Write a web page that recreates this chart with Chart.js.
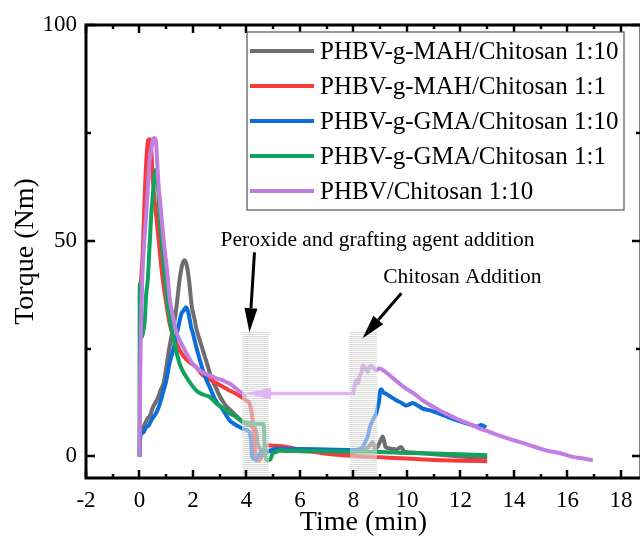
<!DOCTYPE html>
<html>
<head>
<meta charset="utf-8">
<script src="https://cdn.jsdelivr.net/npm/chart.js@4/dist/chart.umd.min.js"></script>
<style>
  html, body { margin: 0; padding: 0; background: #fff; overflow: hidden; }
  #wrap { width: 640px; height: 548px; overflow: hidden; }
</style>
</head>
<body>
<div id="wrap"><canvas id="myChart" width="660" height="548"></canvas></div>
<script>
// series data (time in min, torque in Nm)
const mahTen_t = [0, 0.04, 0.1, 0.2, 0.3, 0.4, 0.5, 0.6, 0.7, 0.8, 0.9, 1.0, 1.1, 1.2, 1.3, 1.4, 1.5, 1.6, 1.68, 1.76, 1.85, 1.95, 2.05, 2.15, 2.25, 2.4, 2.55, 2.7, 2.85, 3.0, 3.2, 3.4, 3.6, 3.8, 4.0, 4.2, 4.35, 4.42, 4.5, 4.6, 4.8, 5.2, 6, 7, 8, 8.3, 8.5, 8.6, 8.72, 8.8, 8.9, 9.0, 9.1, 9.2, 9.4, 9.6, 9.78, 9.9, 10.2, 11, 12, 13];
const mahTen_q = [0, 6, 6.5, 7.5, 8.8, 9.5, 11.4, 12.5, 13.8, 15.5, 17, 20.5, 24.6, 28, 31, 35.5, 41, 44.5, 45.5, 44.5, 41, 35, 32, 29, 27, 24, 21, 18, 16, 14, 12, 10.7, 9.5, 8.4, 7.4, 7, 6, 3, 1.8, 1.5, 1.2, 1.4, 1.2, 1.1, 1.0, 1.4, 1.8, 2.5, 3.3, 1.8, 2.2, 3.5, 4.6, 2.2, 1.8, 1.6, 2.2, 1.1, 0.9, 0.5, 0.0, -0.3];

const mahOne_t = [0, 0.05, 0.12, 0.18, 0.25, 0.32, 0.4, 0.45, 0.5, 0.62, 0.75, 0.87, 1.0, 1.12, 1.25, 1.4, 1.5, 1.75, 2.12, 2.37, 2.6, 2.87, 3.1, 3.36, 3.6, 3.8, 3.99, 4.11, 4.2, 4.26, 4.31, 4.36, 4.45, 4.55, 4.65, 4.73, 4.98, 5.5, 6, 7, 8, 9, 10, 11, 12, 13];
const mahOne_q = [36, 40, 47, 58, 68, 73.3, 73.5, 70, 64, 56, 48, 41, 35.5, 31, 28, 26, 24.6, 22.5, 20.7, 18.8, 18, 17, 16.2, 15.3, 14.6, 13.8, 13, 12.3, 10, 6, 2, -0.8, -0.9, -0.3, 1.5, 2.6, 2.5, 2.2, 1.6, 0.6, 0.1, -0.2, -0.5, -0.8, -1.0, -1.1];

const gmaTen_t = [0, 0.03, 0.06, 0.15, 0.25, 0.35, 0.45, 0.55, 0.62, 0.75, 0.87, 1.0, 1.12, 1.25, 1.37, 1.47, 1.56, 1.65, 1.74, 1.82, 1.93, 2.02, 2.12, 2.25, 2.37, 2.5, 2.68, 2.8, 2.92, 3.1, 3.36, 3.55, 3.74, 3.9, 4.04, 4.11, 4.17, 4.21, 4.28, 4.36, 4.45, 4.55, 4.73, 4.9, 5.1, 6, 7, 8, 8.2, 8.35, 8.45, 8.53, 8.6, 8.66, 8.78, 8.85, 8.91, 8.96, 9.0, 9.04, 9.12, 9.22, 9.4, 9.6, 9.8, 9.97, 10.1, 10.21, 10.4, 10.59, 10.9, 11.21, 11.5, 11.84, 12.15, 12.46, 12.65, 12.77, 12.96];
const gmaTen_q = [0, 4.5, 5.2, 5.6, 6.8, 7.2, 8.5, 9.4, 10, 12, 14.6, 17.5, 21.5, 24.5, 27.7, 30.5, 33, 33.8, 34.6, 33.5, 30, 28, 25.4, 22.5, 20, 17.8, 15.3, 13.5, 12.3, 11, 8.4, 7.5, 6.8, 6.3, 6, 5.5, 3.7, -0.1, -0.6, -0.8, 0.2, 1.0, 1.0, 1.4, 1.8, 1.7, 1.6, 1.5, 1.6, 2.2, 3.5, 4.5, 6.5, 7.6, 9.1, 10, 11.4, 12.8, 15.3, 15.6, 14.8, 14.5, 13.8, 13, 12.4, 11.8, 12.1, 12.4, 11.8, 11.1, 10.6, 9.9, 9.2, 8.4, 7.8, 7.2, 6.9, 7.3, 6.7];

const gmaOne_t = [0, 0.01, 0.08, 0.14, 0.19, 0.25, 0.31, 0.37, 0.44, 0.52, 0.6, 0.68, 0.75, 0.84, 0.93, 1.02, 1.12, 1.25, 1.37, 1.5, 1.62, 1.75, 1.9, 2.12, 2.35, 2.62, 2.87, 3.1, 3.36, 3.6, 3.8, 4.0, 4.2, 4.36, 4.5, 4.61, 4.66, 4.68, 4.72, 4.79, 4.9, 4.98, 5.1, 5.23, 5.5, 6, 7, 8, 9, 10, 11, 12, 13];
const gmaOne_q = [0, 40, 27.6, 29, 31, 37.5, 41, 48, 56, 62, 66.4, 64, 56, 49, 43, 37, 32.3, 28, 24.6, 21.5, 19.8, 18.4, 17, 15.3, 14.4, 13.8, 12.3, 11.3, 10, 9.2, 8.2, 7.8, 7.6, 7.6, 7.6, 7.6, 6, 2, -0.2, -0.9, -0.6, 0.7, 1.0, 1.4, 1.3, 1.3, 1.2, 1.1, 1.0, 0.8, 0.7, 0.5, 0.3];

const neat_t = [0, 0.03, 0.08, 0.12, 0.18, 0.25, 0.31, 0.37, 0.44, 0.5, 0.56, 0.62, 0.7, 0.8, 0.93, 1.05, 1.12, 1.25, 1.37, 1.5, 1.62, 1.75, 1.9, 2.05, 2.24, 2.45, 2.7, 2.93, 3.1, 3.25, 3.4, 3.6, 3.8, 3.99, 6, 7.97, 8.05, 8.1, 8.18, 8.22, 8.3, 8.35, 8.45, 8.53, 8.62, 8.72, 8.85, 8.97, 9.15, 9.35, 9.6, 9.97, 10.3, 10.59, 10.9, 11.21, 11.5, 11.84, 12.15, 12.46, 12.71, 13.08, 13.46, 13.96, 14.5, 15.2, 15.7, 16.2, 16.6, 16.95];
const neat_q = [0, 20, 36, 43.6, 50, 56, 62, 68, 71, 73.5, 73.8, 72.5, 64, 57, 48.5, 42, 37, 32.5, 29, 27, 25.5, 24, 22.3, 21, 20, 19.2, 18.6, 18, 17.7, 17.2, 16.8, 15.8, 14.8, 13.8, null, 14.2, 16.5, 17.6, 17, 18.4, 19.5, 21.1, 20.3, 19.6, 21, 20.7, 20, 20.4, 19.8, 18.8, 17.5, 15.7, 14.4, 13, 11.8, 10.7, 9.8, 8.8, 8, 7.2, 6.5, 5.7, 4.8, 3.8, 2.8, 1.4, 0.8, -0.1, -0.5, -0.9];

const seriesLabels = ['PHBV-g-MAH/Chitosan 1:10', 'PHBV-g-MAH/Chitosan 1:1', 'PHBV-g-GMA/Chitosan 1:10', 'PHBV-g-GMA/Chitosan 1:1', 'PHBV/Chitosan 1:10'];
const seriesColors = ['#6e6e6e', '#f53b3b', '#0d6ddb', '#0fa35e', '#c17de0'];
const xTickValues = [-2, 0, 2, 4, 6, 8, 10, 12, 14, 16, 18];
const yTickValues = [0, 50, 100];

// shaded addition windows and notes
const addWindows = [{ from: 3.83, to: 4.84, top: 28.8 }, { from: 7.87, to: 8.88, top: 28.8 }];
const notes = [
    { text: 'Peroxide and grafting agent addition', x: 8.9, y: 50.1 },
    { text: 'Chitosan Addition', x: 12.07, y: 41.5 }
];

const serif = "'Liberation Serif', 'Times New Roman', serif";

function pairUp(ts, qs) {
    return ts.map((t, i) => ({ x: t, y: qs[i] }));
}

const allSeries = [
    pairUp(mahTen_t, mahTen_q),
    pairUp(mahOne_t, mahOne_q),
    pairUp(gmaTen_t, gmaTen_q),
    pairUp(gmaOne_t, gmaOne_q),
    pairUp(neat_t, neat_q)
];

function drawArrow(ctx, x0, y0, x1, y1, color, width, headLen, headHalf)
{
    const ang = Math.atan2(y1 - y0, x1 - x0);
    const bx = x1 - headLen * Math.cos(ang);
    const by = y1 - headLen * Math.sin(ang);
    ctx.save();
    ctx.strokeStyle = color;
    ctx.fillStyle = color;
    ctx.lineWidth = width;
    ctx.beginPath();
    ctx.moveTo(x0, y0);
    ctx.lineTo(bx, by);
    ctx.stroke();
    ctx.beginPath();
    ctx.moveTo(x1, y1);
    ctx.lineTo(bx + headHalf * Math.sin(ang), by - headHalf * Math.cos(ang));
    ctx.lineTo(bx - headHalf * Math.sin(ang), by + headHalf * Math.cos(ang));
    ctx.closePath();
    ctx.fill();
    ctx.restore();
}

const decorPlugin = {
    id: 'decor',
    afterDatasetsDraw(chart) {
        const { ctx, chartArea, scales: { x, y } } = chart;

        // hatched windows over the curves
        addWindows.forEach(w => {
            const x0 = Math.round(x.getPixelForValue(w.from));
            const x1 = Math.round(x.getPixelForValue(w.to));
            const yt = Math.round(y.getPixelForValue(w.top));
            for (let py = yt; py < chartArea.bottom; py += 2) {
                ctx.fillStyle = 'rgba(200,200,200,0.7)';
                ctx.fillRect(x0, py, x1 - x0, 1);
                ctx.fillStyle = 'rgba(255,255,255,0.5)';
                ctx.fillRect(x0, py + 1, x1 - x0, 1);
            }
        });

        // arrows
        drawArrow(ctx, x.getPixelForValue(7.9), y.getPixelForValue(14.6),
            x.getPixelForValue(3.98), y.getPixelForValue(14.6), '#e2b3f5', 3.5, 25, 6);
        drawArrow(ctx, x.getPixelForValue(4.3), y.getPixelForValue(47.3),
            x.getPixelForValue(4.11), y.getPixelForValue(28.8), '#000', 3, 24, 6.5);
        drawArrow(ctx, x.getPixelForValue(9.79), y.getPixelForValue(37.8),
            x.getPixelForValue(8.34), y.getPixelForValue(27.4), '#000', 3, 24, 6.5);

        ctx.save();
        ctx.fillStyle = '#000';
        ctx.font = '21.5px ' + serif;
        ctx.textAlign = 'center';
        ctx.textBaseline = 'middle';
        notes.forEach(n => ctx.fillText(n.text, x.getPixelForValue(n.x), y.getPixelForValue(n.y)));
        ctx.restore();
    },
    afterDraw(chart) {
        const { ctx, chartArea: a, scales: { x, y } } = chart;
        ctx.save();
        ctx.strokeStyle = '#000';
        ctx.lineWidth = 3;
        ctx.strokeRect(a.left, a.top, a.right - a.left, a.bottom - a.top);

        ctx.lineWidth = 2.5;
        ctx.beginPath();
        for (let v = -2; v <= 18; v += 1) {
            const px = Math.round(x.getPixelForValue(v));
            const len = (v % 2 === 0) ? 8 : 4;
            ctx.moveTo(px, a.bottom); ctx.lineTo(px, a.bottom - len);
            ctx.moveTo(px, a.top); ctx.lineTo(px, a.top + len);
        }
        for (let v = 0; v <= 100; v += 25) {
            const py = Math.round(y.getPixelForValue(v));
            const len = (v % 50 === 0) ? 9 : 5;
            ctx.moveTo(a.left, py); ctx.lineTo(a.left + len, py);
            ctx.moveTo(a.right, py); ctx.lineTo(a.right - len, py);
        }
        ctx.stroke();

        // legend box
        const lx = 247, ly = 32, lw = 377, lh = 178;
        ctx.fillStyle = '#fff';
        ctx.fillRect(lx, ly, lw, lh);
        ctx.strokeStyle = '#555';
        ctx.lineWidth = 1.2;
        ctx.strokeRect(lx, ly, lw, lh);
        ctx.font = '25px ' + serif;
        ctx.textBaseline = 'middle';
        ctx.textAlign = 'left';
        seriesLabels.forEach((lab, i) => {
            const ry = ly + 19 + i * 35;
            ctx.strokeStyle = seriesColors[i];
            ctx.lineWidth = 4;
            ctx.beginPath();
            ctx.moveTo(lx + 3, ry);
            ctx.lineTo(lx + 67, ry);
            ctx.stroke();
            ctx.fillStyle = '#000';
            ctx.fillText(lab, lx + 73, ry + 1);
        });
        ctx.restore();
    }
};

const chartData = {
    datasets: allSeries.map((pts, i) => ({
        label: seriesLabels[i],
        data: pts,
        borderColor: seriesColors[i],
        backgroundColor: seriesColors[i],
        borderWidth: 4,
        pointRadius: 0,
        cubicInterpolationMode: 'monotone',
        spanGaps: false,
        order: seriesLabels.length - i
    }))
};

const config = {
    type: 'line',
    data: chartData,
    options: {
        responsive: false,
        animation: false,
        layout: {
            padding: { top: 25, right: 19, left: 0, bottom: 0 }
        },
        plugins: {
            legend: { display: false },
            tooltip: { enabled: false }
        },
        scales: {
            x: {
                type: 'linear',
                min: -2,
                max: 18.75,
                grid: { display: false, drawTicks: false },
                border: { display: false },
                afterBuildTicks: scale => { scale.ticks = xTickValues.map(v => ({ value: v })); },
                afterFit: scale => { scale.height = 70; },
                ticks: {
                    color: '#000',
                    padding: 9,
                    maxRotation: 0,
                    font: { family: serif, size: 23 }
                },
                title: {
                    display: true,
                    text: 'Time (min)',
                    color: '#000',
                    padding: { top: 0, bottom: 9 },
                    font: { family: serif, size: 28 }
                }
            },
            y: {
                min: -5,
                max: 100,
                grid: { display: false, drawTicks: false },
                border: { display: false },
                afterBuildTicks: scale => { scale.ticks = yTickValues.map(v => ({ value: v })); },
                afterFit: scale => { scale.width = 86; },
                ticks: {
                    color: '#000',
                    padding: 9,
                    font: { family: serif, size: 23 }
                },
                title: {
                    display: true,
                    text: 'Torque (Nm)',
                    color: '#000',
                    padding: { top: 9, bottom: 0 },
                    font: { family: serif, size: 28 }
                }
            }
        }
    },
    plugins: [decorPlugin]
};

const ctx = document.getElementById('myChart').getContext('2d');

if (ctx) {
    new Chart(ctx, config);
}
</script>
</body>
</html>
